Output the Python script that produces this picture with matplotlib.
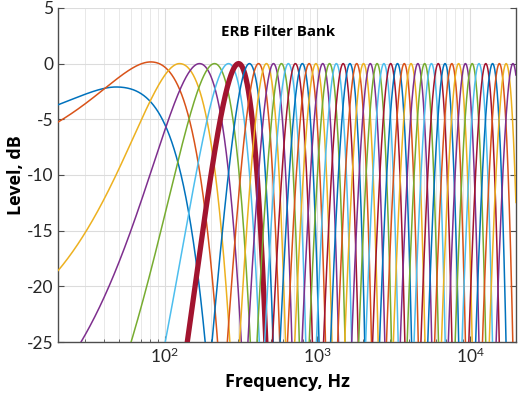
import numpy as np
import matplotlib
matplotlib.use("Agg")
import matplotlib.pyplot as plt
from matplotlib.ticker import LogLocator, LogFormatterMathtext, FixedLocator

centre_hz = [48, 81, 125, 169, 212, 262, 305, 359, 412, 464, 516, 582, 646, 718,
             798, 884, 979, 1085, 1202, 1332, 1476, 1635, 1811, 2007, 2223, 2463,
             2729, 3023, 3350, 3711, 4111, 4555, 5047, 5591, 6194, 6863, 7603,
             8424, 9333, 10340, 11455, 12691, 14060, 15578, 17258, 19121]
# peak level of each filter (dB); only the two lowest differ from 0
peak_db = [-2.1, 0.15] + [0.0] * (len(centre_hz) - 2)
# half widths (Hz) of the lowest bands, below / above the centre
low_width_left = [70, 83, 77, 89, 96, 102, 104]
low_width_right = [90, 89, 90, 94, 96, 98, 98]
highlight = 6   # the thick one near 300 Hz

y_ticks = [5, 0, -5, -10, -15, -20, -25]
colors = ['#0072BD', '#D95319', '#EDB120', '#7E2F8E', '#77AC30', '#4DBEEE', '#A2142F']


def erb(f):
    return 24.7 * (4.37 * f / 1000.0 + 1.0)


def response(f, i):
    fc, peak = centre_hz[i], peak_db[i]
    if i < len(low_width_left):
        s_lo, s_hi = low_width_left[i], low_width_right[i]
    else:
        s_lo = s_hi = max(98.0, 1.3 * erb(fc))
    sigma = np.where(f < fc, s_lo, s_hi)
    # rough band shape: parabola in dB on a linear frequency axis
    return peak - 10.0 * ((f - fc) / sigma) ** 2


plt.rcParams['font.family'] = ['Lato', 'DejaVu Sans']

fig = plt.figure(figsize=(5.18, 3.95), dpi=100)
ax = fig.add_axes([0.112, 0.134, 0.884, 0.846])

freq = np.logspace(np.log10(20), np.log10(20000), 3000)
for i in range(len(centre_hz)):
    lw = 3.8 if i == highlight else 1.1
    ax.plot(freq, response(freq, i), color=colors[i % 7], linewidth=lw,
            solid_capstyle='round', zorder=3)

ax.set_xscale('log')
ax.set_xlim(20, 20000)
ax.set_ylim(-25, 5)
ax.set_yticks(y_ticks)
ax.set_yticklabels([str(v) for v in y_ticks])
ax.xaxis.set_major_locator(FixedLocator([100, 1000, 10000]))
ax.xaxis.set_major_formatter(LogFormatterMathtext())
ax.xaxis.set_minor_locator(LogLocator(base=10, subs=np.arange(2, 10)))

ax.grid(True, which='major', color='#dcdcdc', linewidth=0.8)
ax.grid(True, which='minor', axis='x', color='#e8e8e8', linewidth=0.7)
ax.set_axisbelow(True)

for side in ['left', 'bottom', 'right']:
    ax.spines[side].set_color('#4d4d4d')
    ax.spines[side].set_linewidth(1.0)
ax.spines['top'].set_visible(False)
ax.tick_params(which='both', direction='in', right=True, top=False,
               colors='#4d4d4d', labelcolor='#262626', labelsize=12.5)
ax.tick_params(which='major', length=4)
ax.tick_params(which='minor', length=2)

label_font = ['Open Sans', 'DejaVu Sans']
ax.set_xlabel('Frequency, Hz', fontsize=13, fontweight='bold', labelpad=5,
              family=label_font)
ax.set_ylabel('Level, dB', fontsize=13, fontweight='bold', labelpad=1,
              family=label_font)
ax.text(0.481, 0.928, 'ERB Filter Bank', transform=ax.transAxes, ha='center',
        va='center', fontsize=10.8, fontweight='bold', family=label_font,
        zorder=5)

fig.savefig('out.png', dpi=100)
